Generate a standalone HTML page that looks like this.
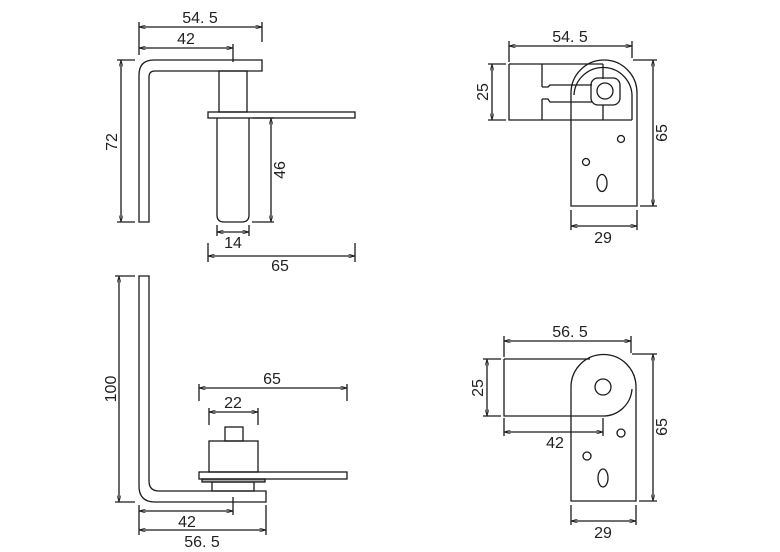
<!DOCTYPE html>
<html><head><meta charset="utf-8"><style>
html,body{margin:0;padding:0;background:#fff;}
svg{display:block;}
text{font-family:"Liberation Sans",sans-serif;font-size:16px;fill:#222;}
</style></head><body>
<svg width="780" height="552" viewBox="0 0 780 552" xmlns="http://www.w3.org/2000/svg">
<defs>
<marker id="a" viewBox="0 0 10 6" refX="10" refY="3" markerWidth="8" markerHeight="4" orient="auto-start-reverse" markerUnits="userSpaceOnUse"><path d="M0,0 L10,3 L0,6" fill="none" stroke="#222" stroke-width="1"/></marker>
</defs>
<g stroke="#1a1a1a" stroke-width="1.3" fill="none">
<path d="M139,222 L139,75 Q139,60 154,60 L262,60 L262,71 L155,71 Q149,71 149,77 L149,222 Z"/>
<rect x="219" y="71" width="28" height="41"/>
<rect x="208" y="112" width="147" height="6"/>
<path d="M217,118 L217,215 Q217,222 224,222 L242,222 Q249,222 249,215 L249,118"/>
<line x1="139" y1="27" x2="262" y2="27" marker-start="url(#a)" marker-end="url(#a)"/>
<line x1="139" y1="22" x2="139" y2="55"/><line x1="262" y1="22" x2="262" y2="42"/>
<line x1="139" y1="48" x2="233" y2="48" marker-start="url(#a)" marker-end="url(#a)"/>
<line x1="233" y1="44" x2="233" y2="62"/>
<line x1="121" y1="60" x2="121" y2="222" marker-start="url(#a)" marker-end="url(#a)"/>
<line x1="117" y1="60" x2="135" y2="60"/><line x1="117" y1="222" x2="135" y2="222"/>
<line x1="271" y1="118" x2="271" y2="222" marker-start="url(#a)" marker-end="url(#a)"/>
<line x1="253" y1="118" x2="274" y2="118"/><line x1="252" y1="222" x2="274" y2="222"/>
<line x1="217" y1="232" x2="249" y2="232" marker-start="url(#a)" marker-end="url(#a)"/>
<line x1="217" y1="225" x2="217" y2="236"/><line x1="249" y1="225" x2="249" y2="236"/>
<line x1="208" y1="256" x2="355" y2="256" marker-start="url(#a)" marker-end="url(#a)"/>
<line x1="208" y1="243" x2="208" y2="262"/><line x1="355" y1="243" x2="355" y2="262"/>

<path d="M139,276 L149,276 L149,481 Q149,491 159,491 L266,491 L266,502 L155,502 Q139,502 139,486 Z"/>
<rect x="212" y="482" width="42" height="9"/>
<rect x="202" y="479" width="63" height="3" fill="#aaa"/>
<rect x="199" y="472" width="148" height="7"/>
<rect x="209" y="441" width="49" height="31"/>
<rect x="225" y="427" width="18" height="14"/>
<line x1="119" y1="276" x2="119" y2="502" marker-start="url(#a)" marker-end="url(#a)"/>
<line x1="115" y1="276" x2="135" y2="276"/><line x1="115" y1="502" x2="135" y2="502"/>
<line x1="199" y1="388" x2="347" y2="388" marker-start="url(#a)" marker-end="url(#a)"/>
<line x1="199" y1="384" x2="199" y2="401"/><line x1="347" y1="384" x2="347" y2="401"/>
<line x1="209" y1="412" x2="258" y2="412" marker-start="url(#a)" marker-end="url(#a)"/>
<line x1="209" y1="408" x2="209" y2="425"/><line x1="258" y1="408" x2="258" y2="425"/>
<line x1="139" y1="511" x2="233" y2="511" marker-start="url(#a)" marker-end="url(#a)"/>
<line x1="139" y1="505" x2="139" y2="535"/><line x1="233" y1="497" x2="233" y2="515"/>
<line x1="139" y1="530" x2="266" y2="530" marker-start="url(#a)" marker-end="url(#a)"/>
<line x1="266" y1="505" x2="266" y2="535"/>

<path d="M571,206 L571,93 A33,33 0 0 1 637,93 L637,206 Z"/>
<path d="M574,95 A29,29 0 0 1 632,98 L632,120"/>
<path d="M509,64 L603,64 M509,64 L509,120 L632,120"/>
<line x1="542" y1="64" x2="542" y2="87"/><line x1="542" y1="99" x2="542" y2="120"/>
<line x1="603" y1="64" x2="603" y2="79"/><line x1="603" y1="105" x2="603" y2="120"/>
<path d="M542,87 L548,87 L550,85 L592,85 M542,99 L548,99 L550,102 L592,102"/>
<rect x="591" y="78" width="29" height="27" rx="7"/>
<circle cx="605" cy="91" r="8"/>
<circle cx="621" cy="139" r="3.5"/>
<circle cx="586" cy="162" r="3.5"/>
<ellipse cx="602" cy="183" rx="5" ry="8.5"/>
<line x1="509" y1="46" x2="632" y2="46" marker-start="url(#a)" marker-end="url(#a)"/>
<line x1="509" y1="41" x2="509" y2="62"/><line x1="632" y1="41" x2="632" y2="58"/>
<line x1="492" y1="64" x2="492" y2="120" marker-start="url(#a)" marker-end="url(#a)"/>
<line x1="488" y1="64" x2="506" y2="64"/><line x1="488" y1="120" x2="506" y2="120"/>
<line x1="653" y1="60" x2="653" y2="206" marker-start="url(#a)" marker-end="url(#a)"/>
<line x1="633" y1="60" x2="657" y2="60"/><line x1="640" y1="206" x2="657" y2="206"/>
<line x1="571" y1="226" x2="637" y2="226" marker-start="url(#a)" marker-end="url(#a)"/>
<line x1="571" y1="210" x2="571" y2="230"/><line x1="637" y1="210" x2="637" y2="230"/>

<path d="M571,501 L571,387 A32.5,32.5 0 0 1 636,387 L636,501 Z"/>
<path d="M504,359 L590,359 M504,359 L504,416 L603,416 A29,29 0 0 0 632,389"/>
<circle cx="603" cy="387" r="8"/>
<circle cx="621" cy="433" r="4"/>
<circle cx="587" cy="456" r="4"/>
<ellipse cx="603" cy="478" rx="5" ry="9"/>
<line x1="504" y1="341" x2="631" y2="341" marker-start="url(#a)" marker-end="url(#a)"/>
<line x1="504" y1="336" x2="504" y2="357"/><line x1="631" y1="336" x2="631" y2="353"/>
<line x1="487" y1="359" x2="487" y2="416" marker-start="url(#a)" marker-end="url(#a)"/>
<line x1="483" y1="359" x2="501" y2="359"/><line x1="483" y1="416" x2="501" y2="416"/>
<line x1="504" y1="432" x2="603" y2="432" marker-start="url(#a)" marker-end="url(#a)"/>
<line x1="504" y1="418" x2="504" y2="436"/><line x1="603" y1="418" x2="603" y2="436"/>
<line x1="653" y1="354" x2="653" y2="501" marker-start="url(#a)" marker-end="url(#a)"/>
<line x1="632" y1="354" x2="657" y2="354"/><line x1="639" y1="501" x2="657" y2="501"/>
<line x1="571" y1="521" x2="636" y2="521" marker-start="url(#a)" marker-end="url(#a)"/>
<line x1="571" y1="505" x2="571" y2="525"/><line x1="636" y1="505" x2="636" y2="525"/>
</g>
<g text-anchor="middle">
<text x="200" y="23">54. 5</text>
<text x="186" y="44">42</text>
<text transform="translate(117,142) rotate(-90)">72</text>
<text transform="translate(285,170) rotate(-90)">46</text>
<text x="233" y="248">14</text>
<text x="280" y="271">65</text>
<text transform="translate(116,389) rotate(-90)">100</text>
<text x="272" y="384">65</text>
<text x="233" y="408">22</text>
<text x="187" y="527">42</text>
<text x="202" y="547">56. 5</text>
<text x="570" y="42">54. 5</text>
<text transform="translate(488,92) rotate(-90)">25</text>
<text transform="translate(667,133) rotate(-90)">65</text>
<text x="603" y="243">29</text>
<text x="570" y="337">56. 5</text>
<text transform="translate(483,388) rotate(-90)">25</text>
<text x="555" y="448">42</text>
<text transform="translate(667,427) rotate(-90)">65</text>
<text x="603" y="538">29</text>
</g>
</svg>
</body></html>
